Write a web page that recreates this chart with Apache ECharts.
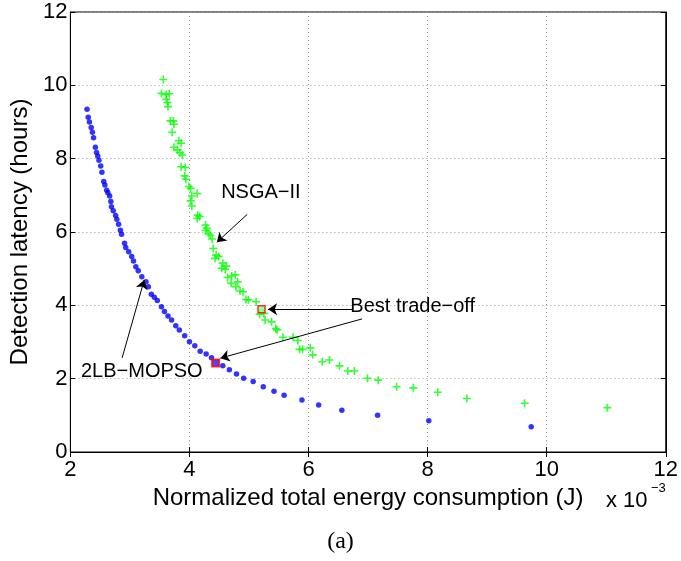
<!DOCTYPE html>
<html>
<head>
<meta charset="utf-8">
<script src="https://cdn.jsdelivr.net/npm/echarts@6/dist/echarts.min.js"></script>
<style>
  html, body { margin: 0; padding: 0; background: #fff; }
  #chart { width: 681px; height: 561px; }
</style>
</head>
<body>
<div id="chart"></div>
<script>
// energy in units of 1e-3 J, latency in hours
const mopso = [
  [2.28, 9.35], [2.30, 9.13], [2.32, 9.00], [2.35, 8.85], [2.37, 8.72], [2.39, 8.57],
  [2.42, 8.31], [2.44, 8.17], [2.46, 8.07], [2.48, 7.96], [2.51, 7.80], [2.53, 7.63],
  [2.56, 7.38], [2.58, 7.28], [2.61, 7.14], [2.63, 7.07], [2.66, 6.98], [2.68, 6.83],
  [2.69, 6.69], [2.72, 6.58], [2.76, 6.45], [2.78, 6.35], [2.81, 6.21], [2.84, 6.05],
  [2.86, 5.94], [2.91, 5.69], [2.93, 5.58], [2.98, 5.46], [3.03, 5.33], [3.06, 5.21],
  [3.10, 5.05], [3.14, 4.94], [3.20, 4.78], [3.27, 4.64], [3.31, 4.51], [3.36, 4.30],
  [3.41, 4.22], [3.46, 4.13], [3.53, 3.96], [3.58, 3.83], [3.64, 3.71], [3.70, 3.60],
  [3.77, 3.44], [3.83, 3.33], [3.92, 3.17], [4.00, 3.01], [4.09, 2.90], [4.18, 2.75],
  [4.28, 2.67], [4.37, 2.57], [4.56, 2.35], [4.67, 2.24], [4.79, 2.13], [4.91, 2.01],
  [5.07, 1.92], [5.24, 1.78], [5.42, 1.66], [5.59, 1.55], [5.89, 1.42], [6.17, 1.28],
  [6.56, 1.14], [7.16, 1.00], [8.02, 0.85], [9.74, 0.69]
];
const nsga = [
  [3.56, 10.16], [3.53, 9.78], [3.61, 9.75], [3.66, 9.77], [3.61, 9.62], [3.63, 9.53],
  [3.64, 9.42], [3.68, 9.03], [3.73, 9.03], [3.74, 8.94], [3.71, 8.72], [3.82, 8.49],
  [3.86, 8.42], [3.74, 8.31], [3.80, 8.24], [3.84, 8.16], [3.88, 8.10], [3.86, 7.78],
  [3.93, 7.76], [3.92, 7.53], [3.94, 7.44], [3.99, 7.24], [4.02, 7.19], [4.04, 6.98],
  [4.13, 7.05], [4.02, 6.85], [4.04, 6.71], [4.14, 6.46], [4.17, 6.42], [4.13, 6.37],
  [4.27, 6.19], [4.29, 6.10], [4.27, 6.04], [4.32, 5.96], [4.35, 5.92], [4.38, 5.81],
  [4.40, 5.55], [4.45, 5.37], [4.43, 5.28], [4.49, 5.33], [4.56, 5.15], [4.54, 5.01],
  [4.60, 4.98], [4.62, 5.07], [4.64, 4.76], [4.71, 4.80], [4.77, 4.83], [4.70, 4.60],
  [4.81, 4.64], [4.78, 4.51], [4.85, 4.39], [4.90, 4.37], [4.95, 4.16], [4.99, 4.15],
  [5.12, 4.10], [5.18, 3.76], [5.25, 3.78], [5.27, 3.60], [5.38, 3.55], [5.45, 3.37],
  [5.47, 3.33], [5.57, 3.13], [5.74, 3.13], [5.82, 3.04], [5.85, 2.80], [5.90, 2.80],
  [6.03, 2.84], [6.07, 2.65], [6.23, 2.46], [6.35, 2.51], [6.52, 2.35], [6.66, 2.21],
  [6.77, 2.21], [6.99, 2.01], [7.17, 1.96], [7.48, 1.78], [7.76, 1.75], [8.17, 1.63],
  [8.66, 1.46], [9.63, 1.33], [11.02, 1.21]
];
// best trade-off points
const bestMopso = [[4.44, 2.43]];
const bestNsga = [[5.21, 3.89]];

// annotation arrows: [from, to]
const arrows = [
  [[4.97, 6.48], [4.46, 5.72]],
  [[2.87, 2.57], [3.24, 4.69]],
  [[6.74, 3.89], [5.32, 3.89]],
  [[6.90, 3.63], [4.52, 2.56]]
];
const notes = [
  { name: 'NSGA\u2212II', coord: [5.2, 7.08] },
  { name: '2LB\u2212MOPSO', coord: [3.2, 2.2] },
  { name: 'Best trade\u2212off', coord: [7.75, 3.98] }
];

const xMin = 2, xMax = 12, yMin = 0, yMax = 12;

const chart = echarts.init(document.getElementById('chart'));
const font = 'Liberation Sans, Helvetica, Arial, sans-serif';
const plusPath = 'path://M4,0h2v4h4v2h-4v4h-2v-4h-4v-2h4z';

const option = {
  animation: false,
  textStyle: { fontFamily: font, color: '#000' },
  grid: { left: 69, right: 12, top: 12, bottom: 109, show: true, borderColor: '#000', borderWidth: 1 },
  xAxis: [
    {
      type: 'value', min: xMin, max: xMax, interval: 2,
      name: 'Normalized total energy consumption (J)',
      nameLocation: 'middle', nameGap: 21,
      nameTextStyle: { fontSize: 24, color: '#000', fontFamily: font },
      axisLine: { lineStyle: { color: '#000', width: 1 } },
      axisTick: { inside: true, length: 5, lineStyle: { color: '#000' } },
      axisLabel: { fontSize: 22, color: '#000', margin: 7, fontFamily: font },
      splitLine: { show: true, lineStyle: { color: '#999', type: [1, 3], width: 1 } }
    },
    {
      type: 'value', min: xMin, max: xMax, interval: 2, position: 'top',
      axisLine: { lineStyle: { color: '#000' } },
      axisTick: { inside: true, length: 5, lineStyle: { color: '#000' } },
      axisLabel: { show: false }, splitLine: { show: false }
    }
  ],
  yAxis: [
    {
      type: 'value', min: yMin, max: yMax, interval: 2,
      name: 'Detection latency (hours)',
      nameLocation: 'middle', nameGap: 29,
      nameTextStyle: { fontSize: 24, color: '#000', fontFamily: font },
      axisLine: { show: true, lineStyle: { color: '#000', width: 1 } },
      axisTick: { show: true, inside: true, length: 5, lineStyle: { color: '#000' } },
      axisLabel: { fontSize: 22, color: '#000', margin: 3, fontFamily: font },
      splitLine: { show: true, lineStyle: { color: '#999', type: [1, 3], width: 1 } }
    },
    {
      type: 'value', min: yMin, max: yMax, interval: 2, position: 'right',
      axisLine: { show: true, lineStyle: { color: '#000' } },
      axisTick: { show: true, inside: true, length: 5, lineStyle: { color: '#000' } },
      axisLabel: { show: false }, splitLine: { show: false }
    }
  ],
  series: [
    {
      name: '2LB-MOPSO', type: 'scatter', data: mopso,
      symbol: 'circle', symbolSize: 5.5,
      itemStyle: { color: '#0000ff' }
    },
    {
      name: 'NSGA-II', type: 'scatter', data: nsga,
      symbol: plusPath, symbolSize: 8,
      itemStyle: { color: '#00ff00' }
    },
    {
      name: 'best-mopso', type: 'scatter', data: bestMopso, z: 5,
      symbol: 'rect', symbolSize: 7,
      itemStyle: { color: '#1a1aff', borderColor: '#ff0000', borderWidth: 2 }
    },
    {
      name: 'best-nsga', type: 'scatter', data: bestNsga, z: 5,
      symbol: 'rect', symbolSize: 7,
      itemStyle: { color: '#7fff7f', borderColor: '#ff0000', borderWidth: 1.5 }
    },
    {
      name: 'notes', type: 'scatter', data: [], z: 6, silent: true,
      markLine: {
        silent: true, animation: false,
        symbol: ['none', 'arrow'], symbolSize: 9,
        lineStyle: { color: '#000', width: 1, type: 'solid' },
        label: { show: false },
        emphasis: { disabled: true },
        data: arrows.map(a => [{ coord: a[0] }, { coord: a[1] }])
      },
      markPoint: {
        silent: true, animation: false,
        symbol: 'circle', symbolSize: 1,
        itemStyle: { color: 'rgba(0,0,0,0)' },
        label: {
          show: true, position: 'inside', formatter: '{b}',
          fontSize: 20, color: '#000', fontFamily: font
        },
        data: notes.map(n => ({ name: n.name, coord: n.coord }))
      }
    }
  ],
  graphic: [
    {
      type: 'text', left: 606, top: 490,
      style: { text: 'x 10', font: '22px ' + font, fill: '#000' }
    },
    {
      type: 'text', left: 651, top: 482,
      style: { text: '\u22123', font: '13px ' + font, fill: '#000' }
    },
    {
      type: 'text', left: 'center', top: 530,
      style: { text: '(a)', font: '24px "Liberation Serif", "DejaVu Serif", serif', fill: '#000' }
    }
  ]
};
chart.setOption(option);
</script>
</body>
</html>
